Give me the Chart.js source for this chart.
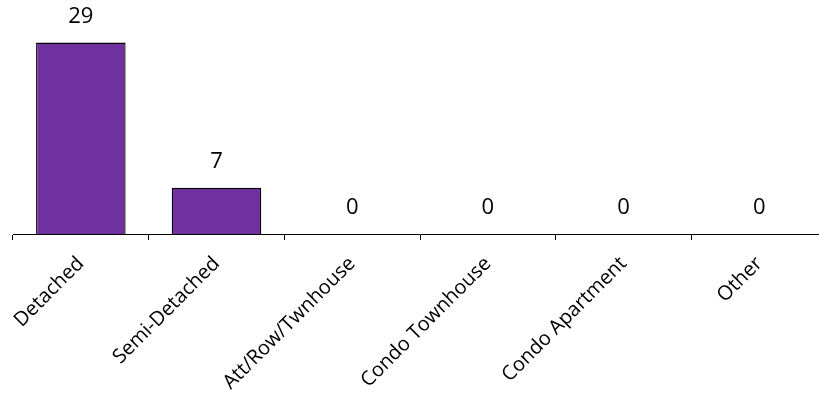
<!DOCTYPE html>
<html>
<head>
<meta charset="utf-8">
<script src="https://cdn.jsdelivr.net/npm/chart.js@4.4.1/dist/chart.umd.min.js"></script>
<style>
  html, body { margin: 0; padding: 0; background: #fff; overflow: hidden; }
  #wrap { width: 827px; height: 406px; }
</style>
</head>
<body>
<div id="wrap"><canvas id="chart" width="827" height="406"></canvas></div>
<script>
const categories = ['Detached', 'Semi-Detached', 'Att/Row/Twnhouse', 'Condo Townhouse', 'Condo Apartment', 'Other'];
const counts = [29, 7, 0, 0, 0, 0];

// value labels above each bar
const valueLabels = {
  id: 'valueLabels',
  afterDatasetsDraw(chart) {
    const ctx = chart.ctx;
    const meta = chart.getDatasetMeta(0);
    ctx.save();
    ctx.font = '22px "Open Sans"';
    ctx.fillStyle = '#000';
    ctx.textAlign = 'center';
    ctx.textBaseline = 'middle';
    meta.data.forEach((bar, i) => {
      ctx.fillText(String(counts[i]), bar.x, bar.y - 26);
    });
    ctx.restore();
  }
};

new Chart(document.getElementById('chart').getContext('2d'), {
  type: 'bar',
  data: {
    labels: categories,
    datasets: [{
      data: counts,
      backgroundColor: '#7030A0',
      borderColor: '#000',
      borderWidth: 1.3,
      barPercentage: 0.66,
      categoryPercentage: 1
    }]
  },
  options: {
    responsive: false,
    animation: false,
    layout: { padding: { left: 13, top: 3, right: 0, bottom: 0 } },
    plugins: { legend: { display: false }, tooltip: { enabled: false } },
    scales: {
      y: { display: false, min: 0, max: 35 },
      x: {
        afterFit(scale) { scale.height = 172; },
        border: { display: true, color: '#000', width: 1 },
        grid: {
          offset: true,
          drawOnChartArea: false,
          drawTicks: true,
          tickLength: 6,
          color: '#000'
        },
        ticks: {
          minRotation: 45,
          maxRotation: 45,
          padding: 12,
          color: '#000',
          font: { family: '"Open Sans"', size: 20 }
        }
      }
    }
  },
  plugins: [valueLabels]
});
</script>
</body>
</html>
